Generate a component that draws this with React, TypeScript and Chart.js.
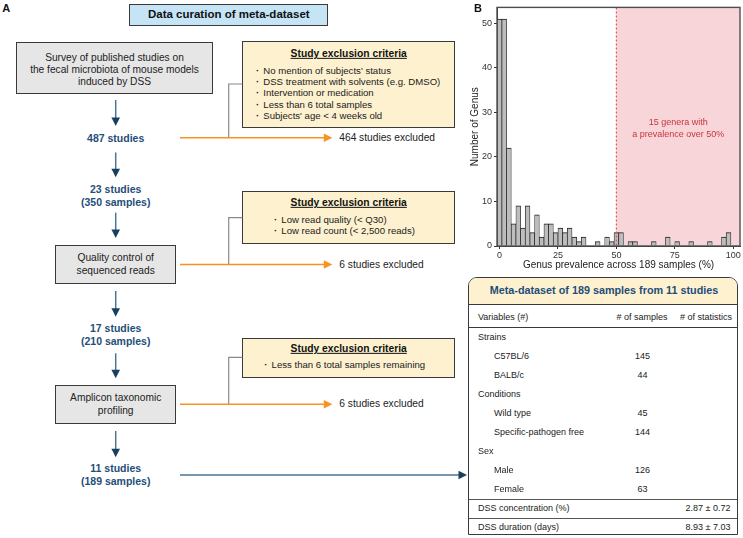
import React, { useEffect, useRef } from "react";
import { Chart, registerables } from "chart.js";

Chart.register(...registerables);

const FONT = "'Liberation Sans', Arial, Helvetica, sans-serif";

// ---------- Panel B histogram data ----------
const binCenters = [
  0, 2, 4, 6, 8, 10, 12, 14, 16, 18, 20, 22, 24, 26, 28, 30, 32, 34, 36, 38, 40,
  42, 44, 46, 48, 50, 52, 54, 56, 58, 60, 62, 64, 66, 68, 70, 72, 74, 76, 78, 80,
  82, 84, 86, 88, 90, 92, 94, 96, 98, 100,
];
const genusCounts = [
  51, 51, 22, 5, 9, 4, 9, 3, 7, 2, 5, 5, 3, 4, 3, 4, 2, 1, 2, 0, 0,
  1, 0, 2, 1, 3, 3, 0, 1, 1, 0, 0, 0, 1, 0, 0, 2, 0, 1, 0, 0,
  1, 0, 0, 0, 1, 0, 0, 2, 3, 0,
];
const xTickValues = [0, 25, 50, 75, 100];
const yTickValues = [0, 10, 20, 30, 40, 50];
const xMin = -1.1;
const xMax = 102.9;
const yMax = 53.6;
const prevalenceThreshold = 50;
const shadeNote = ["15 genera with", "a prevalence over 50%"];
const xTitle = "Genus prevalence across 189 samples (%)";
const yTitle = "Number of Genus";

// ---------- Panel A flowchart text ----------
const criteria1 = [
  "No mention of subjects' status",
  "DSS treatment with solvents (e.g. DMSO)",
  "Intervention or medication",
  "Less than 6 total samples",
  "Subjects' age < 4 weeks old",
];
const criteria2 = ["Low read quality (< Q30)", "Low read count (< 2,500 reads)"];
const criteria3 = ["Less than 6 total samples remaining"];
const excludedLabels = ["464 studies excluded", "6 studies excluded", "6 studies excluded"];

// ---------- Table ----------
const tableTitle = "Meta-dataset of 189 samples from 11 studies";
const tableHeaders = ["Variables (#)", "# of samples", "# of statistics"];
const tableLabels = [
  "Strains", "C57BL/6", "BALB/c", "Conditions", "Wild type", "Specific-pathogen free",
  "Sex", "Male", "Female", "DSS concentration (%)", "DSS duration (days)",
];
const tableIndent = [false, true, true, false, true, true, false, true, true, false, false];
const tableSamples = ["", "145", "44", "", "45", "144", "", "126", "63", "", ""];
const tableStats = ["", "", "", "", "", "", "", "", "", "2.87 ± 0.72", "8.93 ± 7.03"];

const NAVY = "#1f4e79";
const ORANGE = "#f7931e";

type LP = {
  x: number;
  y: number;
  size?: number;
  bold?: boolean;
  color?: string;
  align?: "left" | "center" | "right";
  underline?: boolean;
  children: React.ReactNode;
};

function Label({ x, y, size = 10.2, bold, color = "#222", align = "center", underline, children }: LP) {
  const tx = align === "center" ? "-50%" : align === "right" ? "-100%" : "0";
  return (
    <div
      style={{
        position: "absolute",
        left: x,
        top: y,
        transform: `translate(${tx}, -50%)`,
        fontSize: size,
        fontWeight: bold ? 700 : 400,
        color,
        whiteSpace: "nowrap",
        lineHeight: 1,
        textDecoration: underline ? "underline" : "none",
      }}
    >
      {children}
    </div>
  );
}

function Box({ l, t, r, b, fill, radius }: { l: number; t: number; r: number; b: number; fill: string; radius?: string }) {
  return (
    <div
      style={{
        position: "absolute",
        left: l,
        top: t,
        width: r - l,
        height: b - t,
        boxSizing: "border-box",
        background: fill,
        border: "1.4px solid #3a3a3a",
        borderRadius: radius || 0,
      }}
    />
  );
}

function Histogram() {
  const ref = useRef<HTMLCanvasElement | null>(null);
  useEffect(() => {
    if (!ref.current) return;
    const shadePlugin = {
      id: "shade",
      beforeDatasetsDraw(chart: any) {
        const { ctx, chartArea, scales } = chart;
        const x50 = scales.x.getPixelForValue(prevalenceThreshold);
        ctx.save();
        ctx.fillStyle = "#f7d5d8";
        ctx.fillRect(x50, chartArea.top, chartArea.right - x50, chartArea.bottom - chartArea.top);
        ctx.restore();
      },
      afterDatasetsDraw(chart: any) {
        const { ctx, chartArea, scales } = chart;
        const x50 = scales.x.getPixelForValue(prevalenceThreshold);
        ctx.save();
        ctx.strokeStyle = "#e2525c";
        ctx.lineWidth = 1.2;
        ctx.setLineDash([2, 2]);
        ctx.beginPath();
        ctx.moveTo(x50, chartArea.top);
        ctx.lineTo(x50, chartArea.bottom);
        ctx.stroke();
        ctx.setLineDash([]);
        ctx.fillStyle = "#c9363f";
        ctx.font = `9px ${FONT}`;
        ctx.textAlign = "center";
        ctx.textBaseline = "middle";
        const cx = (x50 + chartArea.right) / 2;
        const cy = scales.y.getPixelForValue(26.4);
        ctx.fillText(shadeNote[0], cx, cy - 6);
        ctx.fillText(shadeNote[1], cx, cy + 6);
        ctx.strokeStyle = "#4d4d4d";
        ctx.lineWidth = 1.4;
        ctx.strokeRect(chartArea.left, chartArea.top, chartArea.right - chartArea.left, chartArea.bottom - chartArea.top);
        ctx.restore();
      },
    };
    const chart = new Chart(ref.current, {
      type: "bar",
      data: {
        datasets: [
          {
            data: binCenters.map((x, i) => ({ x, y: genusCounts[i] })),
            backgroundColor: "#bdbdbd",
            borderColor: "#1e1e1e",
            borderWidth: { top: 1, left: 0.7, right: 0.7, bottom: 0 },
            borderSkipped: false,
            barPercentage: 1,
            categoryPercentage: 1,
          } as any,
        ],
      },
      options: {
        responsive: false,
        animation: false,
        devicePixelRatio: 1,
        layout: { padding: { top: 2, right: 3, bottom: 0, left: 0 } },
        plugins: { legend: { display: false }, tooltip: { enabled: false } },
        scales: {
          x: {
            type: "linear",
            min: xMin,
            max: xMax,
            offset: false,
            afterBuildTicks: (s: any) => {
              s.ticks = xTickValues.map((v) => ({ value: v }));
            },
            afterFit: (s: any) => {
              s.height = 29;
            },
            grid: { offset: false, drawOnChartArea: false, tickLength: 3, color: "#333" },
            border: { display: true, color: "#333", width: 1 },
            ticks: { padding: 1, color: "#333", font: { size: 9, family: FONT }, maxRotation: 0, autoSkip: false },
            title: { display: true, text: xTitle, color: "#222", font: { size: 10, family: FONT }, padding: { top: 0, bottom: 4 } },
          },
          y: {
            type: "linear",
            min: 0,
            max: yMax,
            afterBuildTicks: (s: any) => {
              s.ticks = yTickValues.map((v) => ({ value: v }));
            },
            afterFit: (s: any) => {
              s.width = 32;
            },
            grid: { drawOnChartArea: false, tickLength: 3, color: "#333" },
            border: { display: true, color: "#333", width: 1 },
            ticks: { padding: 2, color: "#333", font: { size: 9, family: FONT } },
            title: { display: true, text: yTitle, color: "#222", font: { size: 10, family: FONT }, padding: { top: 4, bottom: 0 } },
          },
        },
      } as any,
      plugins: [shadePlugin],
    });
    return () => chart.destroy();
  }, []);
  return (
    <canvas
      ref={ref}
      width={278}
      height={275}
      style={{ position: "absolute", left: 465, top: 0, width: 278, height: 275 }}
    />
  );
}

function DownArrow({ x, y1, tip }: { x: number; y1: number; tip: number }) {
  return (
    <g>
      <line x1={x} y1={y1} x2={x} y2={tip - 6} stroke="#4a7598" strokeWidth={1.5} />
      <polygon points={`${x - 4.3},${tip - 8.5} ${x + 4.3},${tip - 8.5} ${x},${tip}`} fill="#173f5f" />
    </g>
  );
}

function RightArrow({ x1, tip, y, color }: { x1: number; tip: number; y: number; color: string }) {
  return (
    <g>
      <line x1={x1} y1={y} x2={tip - 6} y2={y} stroke={color} strokeWidth={1.4} />
      <polygon points={`${tip - 8.5},${y - 4.3} ${tip - 8.5},${y + 4.3} ${tip},${y}`} fill={color} />
    </g>
  );
}

function Bullets({ x, y0, items, step }: { x: number; y0: number; items: string[]; step: number }) {
  return (
    <>
      {items.map((t, i) => (
        <Label key={i} x={x} y={y0 + i * step} size={9.6} align="left">
          <span style={{ display: "inline-block", width: 7.3, fontWeight: 700 }}>·</span>
          {t}
        </Label>
      ))}
    </>
  );
}

export default function App() {
  const rowY0 = 337;
  const rowStep = 19;
  return (
    <div
      style={{
        position: "absolute",
        left: 0,
        top: 0,
        width: 743,
        height: 538,
        overflow: "hidden",
        background: "#fff",
        fontFamily: FONT,
      }}
    >
      {/* Panel A boxes */}
      <Box l={129.3} t={4} r={328.3} b={26} fill="#c5e5f7" />
      <Box l={16} t={41.7} r={213} b={94} fill="#e6e6e6" />
      <Box l={242.3} t={41} r={455} b={127.7} fill="#fdf1cf" />
      <Box l={55.3} t={245} r={176} b={284.3} fill="#e6e6e6" />
      <Box l={242.3} t={191} r={455} b={244.3} fill="#fdf1cf" />
      <Box l={55.3} t={385} r={176} b={424.3} fill="#e6e6e6" />
      <Box l={242.3} t={337.7} r={455} b={377.7} fill="#fdf1cf" />

      <svg width={743} height={538} style={{ position: "absolute", left: 0, top: 0 }}>
        <DownArrow x={115.7} y1={100} tip={126} />
        <DownArrow x={115.7} y1={152.5} tip={177.3} />
        <DownArrow x={115.7} y1={212.7} tip={238} />
        <DownArrow x={115.7} y1={291} tip={316.7} />
        <DownArrow x={115.7} y1={353.3} tip={378.3} />
        <DownArrow x={115.7} y1={431} tip={457.3} />
        {/* grey connectors */}
        <polyline points="242.3,84 228.7,84 228.7,137.7" fill="none" stroke="#8a8a8a" strokeWidth={1.2} />
        <polyline points="242.3,217.7 228.7,217.7 228.7,264.5" fill="none" stroke="#8a8a8a" strokeWidth={1.2} />
        <polyline points="242.3,357.3 228.7,357.3 228.7,404.3" fill="none" stroke="#8a8a8a" strokeWidth={1.2} />
        <RightArrow x1={180} tip={332.3} y={137.7} color={ORANGE} />
        <RightArrow x1={180} tip={332.3} y={264.5} color={ORANGE} />
        <RightArrow x1={180} tip={332.3} y={404.3} color={ORANGE} />
        {/* long arrow to table */}
        <line x1={180} y1={475} x2={461} y2={475} stroke="#4a7598" strokeWidth={1.4} />
        <polygon points="458.5,470.7 458.5,479.3 467,475" fill="#173f5f" />
      </svg>

      <Label x={6.3} y={7.5} size={11} bold color="#111">A</Label>
      <Label x={228.8} y={15} size={11.5} bold color="#111">Data curation of meta-dataset</Label>

      <Label x={114.5} y={57.5}>Survey of published studies on</Label>
      <Label x={114.5} y={70}>the fecal microbiota of mouse models</Label>
      <Label x={114.5} y={82}>induced by DSS</Label>

      <Label x={115.7} y={137.7} size={10.5} bold color={NAVY}>487 studies</Label>
      <Label x={115.7} y={189.3} size={10.5} bold color={NAVY}>23 studies</Label>
      <Label x={115.7} y={201.7} size={10.5} bold color={NAVY}>(350 samples)</Label>
      <Label x={115.7} y={328.3} size={10.5} bold color={NAVY}>17 studies</Label>
      <Label x={115.7} y={340.7} size={10.5} bold color={NAVY}>(210 samples)</Label>
      <Label x={115.7} y={468.3} size={10.5} bold color={NAVY}>11 studies</Label>
      <Label x={115.7} y={480.7} size={10.5} bold color={NAVY}>(189 samples)</Label>

      <Label x={115.7} y={258.3}>Quality control of</Label>
      <Label x={115.7} y={270.5}>sequenced reads</Label>
      <Label x={115.7} y={398.3}>Amplicon taxonomic</Label>
      <Label x={115.7} y={410.7}>profiling</Label>

      <Label x={348.7} y={54.3} size={10.3} bold underline color="#111">Study exclusion criteria</Label>
      <Bullets x={256} y0={70.7} items={criteria1} step={11.33} />
      <Label x={348.7} y={203.3} size={10.3} bold underline color="#111">Study exclusion criteria</Label>
      <Bullets x={274} y0={220} items={criteria2} step={11.33} />
      <Label x={348.7} y={349} size={10.3} bold underline color="#111">Study exclusion criteria</Label>
      <Bullets x={264.3} y0={365} items={criteria3} step={11.33} />

      <Label x={339.3} y={137.7} align="left">{excludedLabels[0]}</Label>
      <Label x={339.3} y={264.5} align="left">{excludedLabels[1]}</Label>
      <Label x={339.3} y={404.3} align="left">{excludedLabels[2]}</Label>

      {/* Panel B histogram */}
      <Histogram />
      <Label x={478} y={8} size={11} bold color="#111">B</Label>

      {/* Table */}
      <div
        style={{
          position: "absolute",
          left: 468,
          top: 277,
          width: 270,
          height: 258,
          boxSizing: "border-box",
          border: "1.4px solid #3a3a3a",
          borderRadius: "9px 9px 0 0",
          overflow: "hidden",
          background: "#fff",
        }}
      >
        <div
          style={{
            position: "absolute",
            left: 0,
            top: 0,
            right: 0,
            height: 25.5,
            background: "#fdf1cf",
            borderBottom: "1px solid #3a3a3a",
          }}
        />
        <div style={{ position: "absolute", left: 0, right: 0, top: 48.7, height: 0, borderTop: "1px solid #3a3a3a" }} />
        <div style={{ position: "absolute", left: 0, right: 0, top: 220.5, height: 0, borderTop: "1px solid #555" }} />
        <div style={{ position: "absolute", left: 0, right: 0, top: 239.5, height: 0, borderTop: "1px solid #555" }} />
      </div>
      <Label x={604} y={290} size={10.8} bold color={NAVY}>{tableTitle}</Label>
      <Label x={478} y={316.7} size={9} align="left">{tableHeaders[0]}</Label>
      <Label x={642} y={316.7} size={9}>{tableHeaders[1]}</Label>
      <Label x={706} y={316.7} size={9}>{tableHeaders[2]}</Label>
      {tableLabels.map((t, i) => (
        <React.Fragment key={i}>
          <Label x={tableIndent[i] ? 494 : 478} y={rowY0 + i * rowStep} size={9} align="left">{t}</Label>
          {tableSamples[i] && <Label x={642.5} y={rowY0 + i * rowStep} size={9}>{tableSamples[i]}</Label>}
          {tableStats[i] && <Label x={708} y={rowY0 + i * rowStep} size={9}>{tableStats[i]}</Label>}
        </React.Fragment>
      ))}
    </div>
  );
}
